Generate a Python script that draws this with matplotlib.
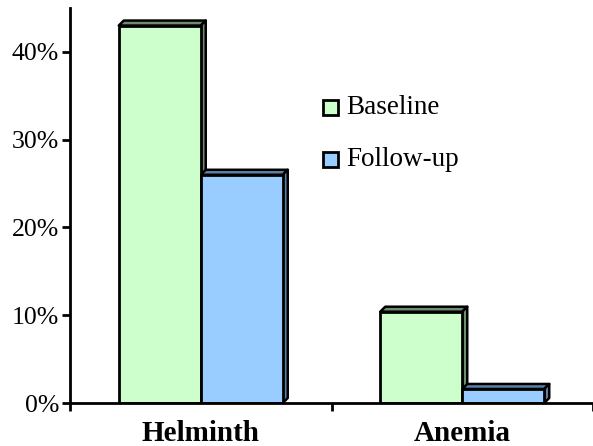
import matplotlib
matplotlib.use("Agg")
import matplotlib.pyplot as plt
from matplotlib.patches import Polygon, Rectangle
import numpy as np

plt.rcParams["font.family"] = ["Liberation Serif", "DejaVu Serif"]

categories = ["Helminth", "Anemia"]
series_names = ["Baseline", "Follow-up"]
baseline = [0.43, 0.104]
followup = [0.26, 0.016]
yticks = [0.0, 0.1, 0.2, 0.3, 0.4]
ytick_labels = ["0%", "10%", "20%", "30%", "40%"]

front_colors = ["#CCFFCC", "#99CCFF"]
side_colors = ["#6E8E6E", "#5B80A8"]

W, H = 593, 446
fig = plt.figure(figsize=(W / 100, H / 100), dpi=100)
left, right = 70 / W, 593 / W
bottom, top = 1 - 403 / H, 1 - 8 / H
ax = fig.add_axes([left, bottom, right - left, top - bottom])

ymax = 0.45
ax.set_xlim(0, 2)
ax.set_ylim(0, ymax)

bw = 82 / 261.5
x = np.arange(len(categories)) + 0.5
px_x = 2 / (right - left) / W
px_y = ymax / (top - bottom) / H
dx, dy = 5 * px_x, 5 * px_y

for i, vals in enumerate([baseline, followup]):
    xs = x - bw + i * bw
    for xl, v in zip(xs, vals):
        xr = xl + bw
        ax.add_patch(Polygon([(xl, v), (xr, v), (xr + dx, v + dy), (xl + dx, v + dy)],
                             closed=True, facecolor=side_colors[i], edgecolor="black",
                             linewidth=1.8, joinstyle="round", zorder=2))
        ax.add_patch(Polygon([(xr, 0), (xr + dx, dy), (xr + dx, v + dy), (xr, v)],
                             closed=True, facecolor=side_colors[i], edgecolor="black",
                             linewidth=1.8, joinstyle="round", zorder=2))
    ax.bar(xs, vals, width=bw, align="edge", color=front_colors[i], edgecolor="black",
           linewidth=2, zorder=3, label=series_names[i])

for s in ["top", "right"]:
    ax.spines[s].set_visible(False)
ax.spines["left"].set_linewidth(2)
ax.spines["bottom"].set_linewidth(2)
ax.spines["bottom"].set_zorder(4)

ax.set_yticks(yticks)
ax.set_yticklabels(ytick_labels, fontsize=18.5)
ax.tick_params(axis="y", direction="out", length=6, width=2, pad=2)

ax.set_xticks([0, 1, 2])
ax.set_xticklabels([])
ax.tick_params(axis="x", direction="out", length=6, width=2)
for xc, c in zip(x, categories):
    ax.text(xc, -0.019, c, ha="center", va="top",
            fontsize=21, fontweight="bold", transform=ax.transData, clip_on=False)

fig_tr = fig.transFigure
for j, (name, col) in enumerate(zip(series_names, front_colors)):
    ytop = 100 + j * 52
    fig.patches.append(Rectangle((323 / W, 1 - (ytop + 15) / H), 15 / W, 15 / H,
                                 facecolor=col, edgecolor="black", linewidth=2,
                                 transform=fig_tr))
    fig.text(346 / W, 1 - (ytop + 7.5) / H, name, ha="left", va="center", fontsize=19.5)

fig.savefig("out.png", dpi=100)
